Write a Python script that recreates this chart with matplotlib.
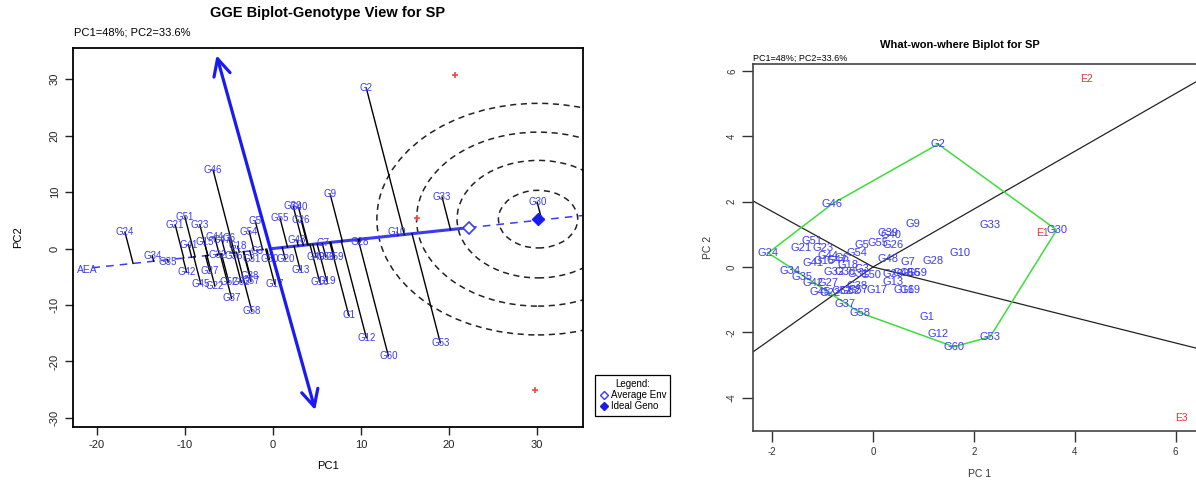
import numpy as np
import matplotlib
matplotlib.use("Agg")
import matplotlib.pyplot as plt
from matplotlib.patches import Ellipse
from matplotlib.lines import Line2D

plt.rcParams["font.family"] = ["Liberation Sans", "DejaVu Sans"]
plt.rcParams["axes.unicode_minus"] = False

# genotype names shared by both biplots
genotypes = ["G1", "G2", "G7", "G9", "G10", "G12", "G13", "G16", "G19", "G17",
             "G21", "G23", "G24", "G27", "G28", "G30", "G33", "G34", "G35", "G37",
             "G38", "G39", "G42", "G46", "G48", "G51", "G53", "G58", "G60", "G5",
             "G55", "G26", "G40", "G54", "G44", "G6", "G41", "G15", "G47", "G32",
             "G36", "G3", "G31", "G50", "G20", "G49", "G56", "G59", "G22", "G52",
             "G62", "G57", "G45", "G18"]

# genotype view scores (PC1, PC2)
gv_pc1 = [8.6, 10.6, 5.7, 6.5, 14.1, 10.6, 3.1, 5.3, 6.1, 0.2,
          -11.1, -8.3, -16.8, -7.2, 9.9, 30.0, 19.2, -13.7, -11.9, -4.7,
          -2.6, 2.3, -9.8, -6.8, 2.7, -10.0, 19.0, -2.4, 13.1, -2.0,
          0.8, 3.2, 2.9, -2.7, -6.6, -5.0, -9.6, -7.8, -5.8, -6.3,
          -4.4, -1.8, -2.4, -0.4, 1.4, 4.9, 6.0, 7.0, -6.6, -5.0,
          -3.6, -2.5, -8.2, -4.0]
gv_pc2 = [-11.8, 28.4, 1.0, 9.6, 2.9, -15.8, -3.8, -5.9, -5.7, -6.3,
          4.2, 4.2, 2.9, -4.0, 1.2, 8.2, 9.1, -1.3, -2.4, -8.8,
          -4.8, 7.5, -4.2, 13.9, 1.5, 5.6, -16.7, -11.1, -19.0, 4.8,
          5.4, 5.0, 7.3, 3.0, 2.0, 1.9, 0.7, 1.2, 1.5, -1.2,
          -1.3, -0.5, -1.8, -1.9, -1.9, -1.5, -1.5, -1.5, -6.6, -6.0,
          -6.0, -5.8, -6.2, 0.4]

# environment scores in the genotype view
env_pc1 = [16.3, 20.7, 29.8]
env_pc2 = [5.4, 30.7, -25.0]

ideal_geno = (30.1, 5.2)
atc_top = (-6.4, 34.2)
atc_bottom = (4.8, -28.6)
ring_rx = [4.5, 9.2, 13.8, 18.3]
ring_ry = [5.1, 10.4, 15.4, 20.5]

# which-won-where scores
ww_pc1 = [1.07, 1.29, 0.69, 0.79, 1.72, 1.29, 0.40, 0.62, 0.74, 0.08,
          -1.42, -1.00, -2.08, -0.90, 1.19, 3.64, 2.32, -1.64, -1.41, -0.55,
          -0.32, 0.30, -1.20, -0.81, 0.30, -1.22, 2.32, -0.26, 1.60, -0.22,
          0.10, 0.40, 0.36, -0.32, -0.90, -0.62, -1.19, -0.98, -0.72, -0.78,
          -0.55, -0.22, -0.30, -0.05, 0.40, 0.60, 0.74, 0.86, -0.85, -0.62,
          -0.45, -0.30, -1.05, -0.50]
ww_pc2 = [-1.52, 3.76, 0.15, 1.31, 0.43, -2.05, -0.45, -0.72, -0.72, -0.72,
          0.58, 0.58, 0.43, -0.48, 0.18, 1.13, 1.28, -0.12, -0.30, -1.13,
          -0.58, 1.04, -0.48, 1.93, 0.24, 0.80, -2.14, -1.40, -2.44, 0.67,
          0.73, 0.67, 0.98, 0.43, 0.34, 0.28, 0.12, 0.18, 0.22, -0.14,
          -0.16, -0.05, -0.22, -0.24, -0.22, -0.18, -0.18, -0.18, -0.80, -0.74,
          -0.74, -0.72, -0.78, 0.05]
envs = ["E1", "E2", "E3"]
ww_env_pc1 = [3.35, 4.24, 6.12]
ww_env_pc2 = [1.04, 5.75, -4.62]
hull = ["G24", "G46", "G2", "G30", "G53", "G60", "G58", "G24"]
ray_x = [-2.38, 6.6, 6.6, -2.38]
ray_y = [2.02, -2.56, 5.84, -2.60]

BLUE = "#3b3bf0"
W, H = 1196, 484

fig = plt.figure(figsize=(W / 100, H / 100), dpi=100)

# ---- GGE biplot, genotype view ----
ax = fig.add_axes([73 / W, 1 - 427 / H, (583 - 73) / W, (427 - 48) / H])
ax.set_xlim(-22.7, 35.2)
ax.set_ylim(-31.6, 35.5)

env_x = np.array(env_pc1)
env_y = np.array(env_pc2)
avg_env = np.array([env_x.mean(), env_y.mean()])
u = avg_env / np.linalg.norm(avg_env)

# average environment axis
left_t = -20.5 / u[0]
right_t = 36.0 / u[0]
ax.plot([left_t * u[0], 0], [left_t * u[1], 0], color=BLUE, lw=1.1, ls=(0, (5, 4)))
ax.plot([0, avg_env[0]], [0, avg_env[1]], color=BLUE, lw=2.2)
ax.plot([avg_env[0], right_t * u[0]], [avg_env[1], right_t * u[1]],
        color=BLUE, lw=1.1, ls=(0, (5, 4)))
ax.text(left_t * u[0] - 0.6, left_t * u[1] - 0.4, "AEA", color=BLUE,
        fontsize=7.5, ha="center", va="center")

# concentric rings around the ideal genotype
for rx, ry in zip(ring_rx, ring_ry):
    ax.add_patch(Ellipse(ideal_geno, 2 * rx, 2 * ry, fill=False, ec="#222222",
                         lw=1.1, ls=(0, (4, 3))))

# projection of each genotype onto the AEA
gx = np.array(gv_pc1)
gy = np.array(gv_pc2)
t = gx * u[0] + gy * u[1]
for x0, y0, tt in zip(gx, gy, t):
    ax.plot([x0, tt * u[0]], [y0, tt * u[1]], color="black", lw=1.0, zorder=3)
for name, x0, y0 in zip(genotypes, gx, gy):
    ax.text(x0, y0, name, color=BLUE, fontsize=7, ha="center", va="center",
            zorder=4)

ax.annotate("", xy=atc_top, xytext=atc_bottom,
            arrowprops=dict(arrowstyle="<->,head_length=0.6,head_width=0.3",
                            color="#1a1af5", lw=2.3, shrinkA=0, shrinkB=0,
                            mutation_scale=20), zorder=5)

ax.plot(env_x, env_y, "+", color="#f04848", ms=4, mew=1.2, zorder=5)
ax.plot(*avg_env, marker="D", ms=6, mfc="white", mec=BLUE, mew=1.2, zorder=6)
ax.plot(*ideal_geno, marker="D", ms=6, color="#1a1af5", zorder=6)

ax.set_xticks([-20, -10, 0, 10, 20, 30])
ax.set_yticks([-30, -20, -10, 0, 10, 20, 30])
ax.tick_params(direction="out", length=6, width=1, labelsize=8, colors="#222222")
ax.tick_params(axis="y", labelrotation=90)
for lab in ax.get_yticklabels():
    lab.set_va("center")
for sp in ax.spines.values():
    sp.set_linewidth(1.3)
ax.set_xlabel("PC1", fontsize=8, labelpad=8)
ax.set_ylabel("PC2", fontsize=8, labelpad=19)

handles = [Line2D([], [], ls="none", marker="D", ms=4, mfc="white", mec=BLUE, mew=1),
           Line2D([], [], ls="none", marker="D", ms=4, color="#1a1af5")]
leg = ax.legend(handles, ["Average Env", "Ideal Geno"], title="Legend:",
                loc="upper left", bbox_to_anchor=(595 / W, 1 - 375 / H),
                bbox_transform=fig.transFigure, fontsize=7, title_fontsize=7,
                fancybox=False, edgecolor="black", framealpha=1,
                borderpad=0.45, handletextpad=0.25, labelspacing=0.1,
                handlelength=0.9, borderaxespad=0)
leg.get_frame().set_linewidth(0.9)

fig.text(328 / W, 1 - 13 / H, "GGE Biplot-Genotype View for SP",
         ha="center", va="center", fontsize=10.5, fontweight="bold")
fig.text(74 / W, 1 - 33 / H, "PC1=48%; PC2=33.6%", ha="left", va="center",
         fontsize=8)

# ---- which-won-where biplot ----
ax2 = fig.add_axes([753 / W, 1 - 431 / H, (1206 - 753) / W, (431 - 64) / H])
ax2.set_xlim(-2.38, 6.6)
ax2.set_ylim(-5.02, 6.21)

for rx_, ry_ in zip(ray_x, ray_y):
    ax2.plot([0, rx_], [0, ry_], color="#222222", lw=0.9)

pos = {n: (x0, y0) for n, x0, y0 in zip(genotypes, ww_pc1, ww_pc2)}
ax2.plot([pos[n][0] for n in hull], [pos[n][1] for n in hull],
         color="#3ddc3d", lw=1.1)
for name, x0, y0 in zip(genotypes, ww_pc1, ww_pc2):
    ax2.text(x0, y0, name, color=BLUE, fontsize=8, ha="center", va="center")
for name, x0, y0 in zip(envs, ww_env_pc1, ww_env_pc2):
    ax2.text(x0, y0, name, color="#e8333a", fontsize=7.5, ha="center", va="center")

ax2.set_xticks([-2, 0, 2, 4, 6])
ax2.set_yticks([-4, -2, 0, 2, 4, 6])
ax2.tick_params(direction="out", length=8, width=1, labelsize=7, colors="#333333")
ax2.tick_params(axis="y", labelrotation=90)
for lab in ax2.get_yticklabels():
    lab.set_va("center")
for sp in ax2.spines.values():
    sp.set_linewidth(1.2)
    sp.set_color("#444444")
ax2.set_xlabel("PC 1", fontsize=7.5, labelpad=9, color="#333333")
ax2.set_ylabel("PC 2", fontsize=7.5, labelpad=10, color="#333333")

fig.text(960 / W, 1 - 45 / H, "What-won-where Biplot for SP", ha="center",
         va="center", fontsize=8, fontweight="bold")
fig.text(753 / W, 1 - 58 / H, "PC1=48%; PC2=33.6%", ha="left", va="center",
         fontsize=6.5)

fig.savefig("out.png", dpi=100)
